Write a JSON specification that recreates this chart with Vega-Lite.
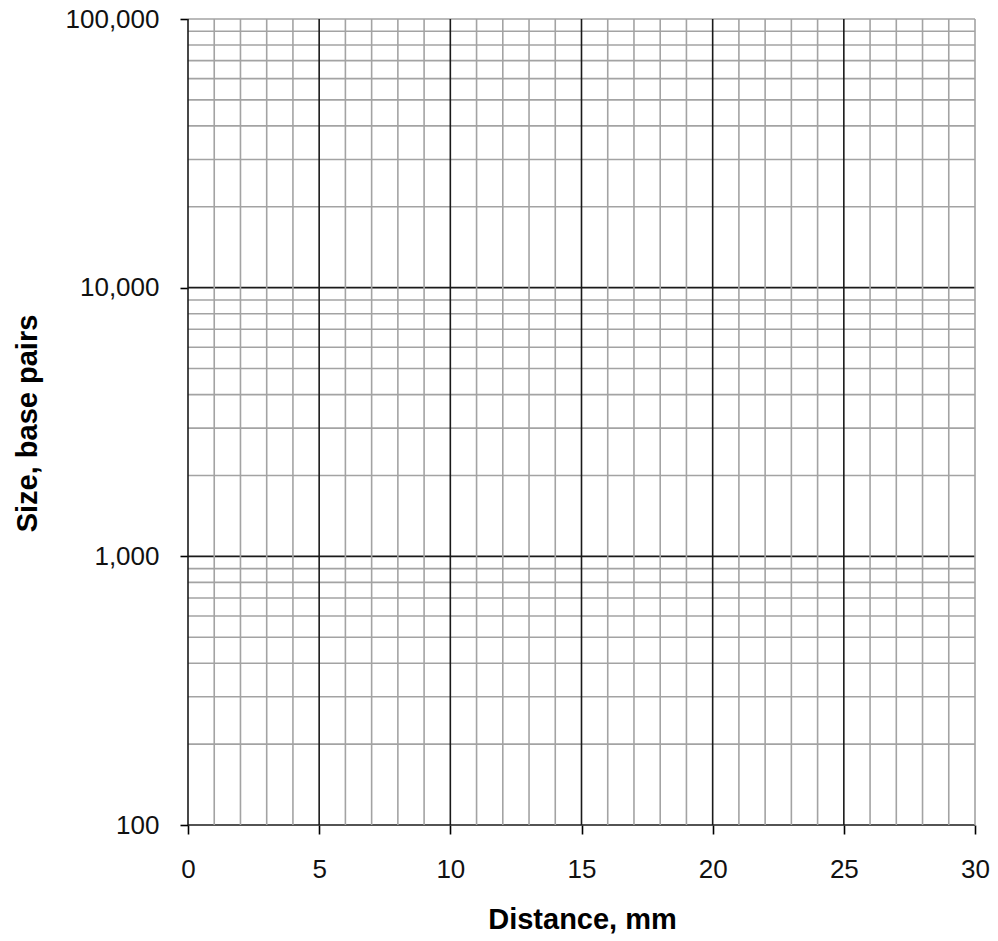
{
  "$schema": "https://vega.github.io/schema/vega-lite/v6.json",
  "width": 787,
  "height": 806,
  "autosize": "none",
  "padding": {"left": 188, "top": 19, "right": 23, "bottom": 116},
  "background": "white",
  "config": {
    "view": {"stroke": null},
    "font": "Liberation Sans"
  },
  "datasets": {
    "vlines": [
      {"mm": 1, "kind": "minor"}, {"mm": 2, "kind": "minor"}, {"mm": 3, "kind": "minor"}, {"mm": 4, "kind": "minor"},
      {"mm": 6, "kind": "minor"}, {"mm": 7, "kind": "minor"}, {"mm": 8, "kind": "minor"}, {"mm": 9, "kind": "minor"},
      {"mm": 11, "kind": "minor"}, {"mm": 12, "kind": "minor"}, {"mm": 13, "kind": "minor"}, {"mm": 14, "kind": "minor"},
      {"mm": 16, "kind": "minor"}, {"mm": 17, "kind": "minor"}, {"mm": 18, "kind": "minor"}, {"mm": 19, "kind": "minor"},
      {"mm": 21, "kind": "minor"}, {"mm": 22, "kind": "minor"}, {"mm": 23, "kind": "minor"}, {"mm": 24, "kind": "minor"},
      {"mm": 26, "kind": "minor"}, {"mm": 27, "kind": "minor"}, {"mm": 28, "kind": "minor"}, {"mm": 29, "kind": "minor"},
      {"mm": 30, "kind": "minor"},
      {"mm": 0, "kind": "major"}, {"mm": 5, "kind": "major"}, {"mm": 10, "kind": "major"}, {"mm": 15, "kind": "major"},
      {"mm": 20, "kind": "major"}, {"mm": 25, "kind": "major"}
    ],
    "hlines": [
      {"bp": 200, "kind": "minor"}, {"bp": 300, "kind": "minor"}, {"bp": 400, "kind": "minor"}, {"bp": 500, "kind": "minor"},
      {"bp": 600, "kind": "minor"}, {"bp": 700, "kind": "minor"}, {"bp": 800, "kind": "minor"}, {"bp": 900, "kind": "minor"},
      {"bp": 2000, "kind": "minor"}, {"bp": 3000, "kind": "minor"}, {"bp": 4000, "kind": "minor"}, {"bp": 5000, "kind": "minor"},
      {"bp": 6000, "kind": "minor"}, {"bp": 7000, "kind": "minor"}, {"bp": 8000, "kind": "minor"}, {"bp": 9000, "kind": "minor"},
      {"bp": 20000, "kind": "minor"}, {"bp": 30000, "kind": "minor"}, {"bp": 40000, "kind": "minor"}, {"bp": 50000, "kind": "minor"},
      {"bp": 60000, "kind": "minor"}, {"bp": 70000, "kind": "minor"}, {"bp": 80000, "kind": "minor"}, {"bp": 90000, "kind": "minor"},
      {"bp": 100000, "kind": "minor"},
      {"bp": 100, "kind": "major"}, {"bp": 1000, "kind": "major"}, {"bp": 10000, "kind": "major"}
    ]
  },
  "layer": [
    {
      "data": {"name": "hlines"},
      "mark": {"type": "rule", "strokeWidth": 1.6},
      "encoding": {
        "y": {
          "field": "bp",
          "type": "quantitative",
          "scale": {"type": "log", "domain": [100, 100000], "nice": false},
          "axis": {
            "values": [100, 1000, 10000, 100000],
            "format": ",d",
            "title": "Size, base pairs",
            "titleFont": "Liberation Sans",
            "titleFontSize": 29,
            "titleFontWeight": "bold",
            "titleColor": "black",
            "titleAngle": -90,
            "titleX": -152,
            "titleY": 404,
            "titleAlign": "center",
            "titleBaseline": "alphabetic",
            "labelFont": "Liberation Sans",
            "labelFontSize": 26,
            "labelColor": "#111",
            "labelPadding": 21,
            "labelBaseline": "middle",
            "tickSize": 8,
            "tickColor": "black",
            "tickWidth": 1.6,
            "domain": false,
            "grid": false
          }
        },
        "color": {
          "field": "kind",
          "type": "nominal",
          "scale": {"domain": ["minor", "major"], "range": ["#a3a3a3", "#1a1a1a"]},
          "legend": null
        }
      }
    },
    {
      "data": {"name": "vlines"},
      "mark": {"type": "rule", "strokeWidth": 1.6},
      "encoding": {
        "x": {
          "field": "mm",
          "type": "quantitative",
          "scale": {"domain": [0, 30], "nice": false, "zero": false},
          "axis": {
            "values": [0, 5, 10, 15, 20, 25, 30],
            "title": "Distance, mm",
            "titleFont": "Liberation Sans",
            "titleFontSize": 29,
            "titleFontWeight": "bold",
            "titleColor": "black",
            "titleX": 394,
            "titleY": 103,
            "titleAlign": "center",
            "titleBaseline": "alphabetic",
            "labelFont": "Liberation Sans",
            "labelFontSize": 26,
            "labelColor": "#111",
            "labelFlush": false,
            "labelBaseline": "alphabetic",
            "labelPadding": 43,
            "tickSize": 9,
            "tickColor": "black",
            "tickWidth": 1.6,
            "domain": false,
            "grid": false
          }
        },
        "color": {
          "field": "kind",
          "type": "nominal",
          "scale": {"domain": ["minor", "major"], "range": ["#a3a3a3", "#1a1a1a"]},
          "legend": null
        }
      }
    }
  ]
}
